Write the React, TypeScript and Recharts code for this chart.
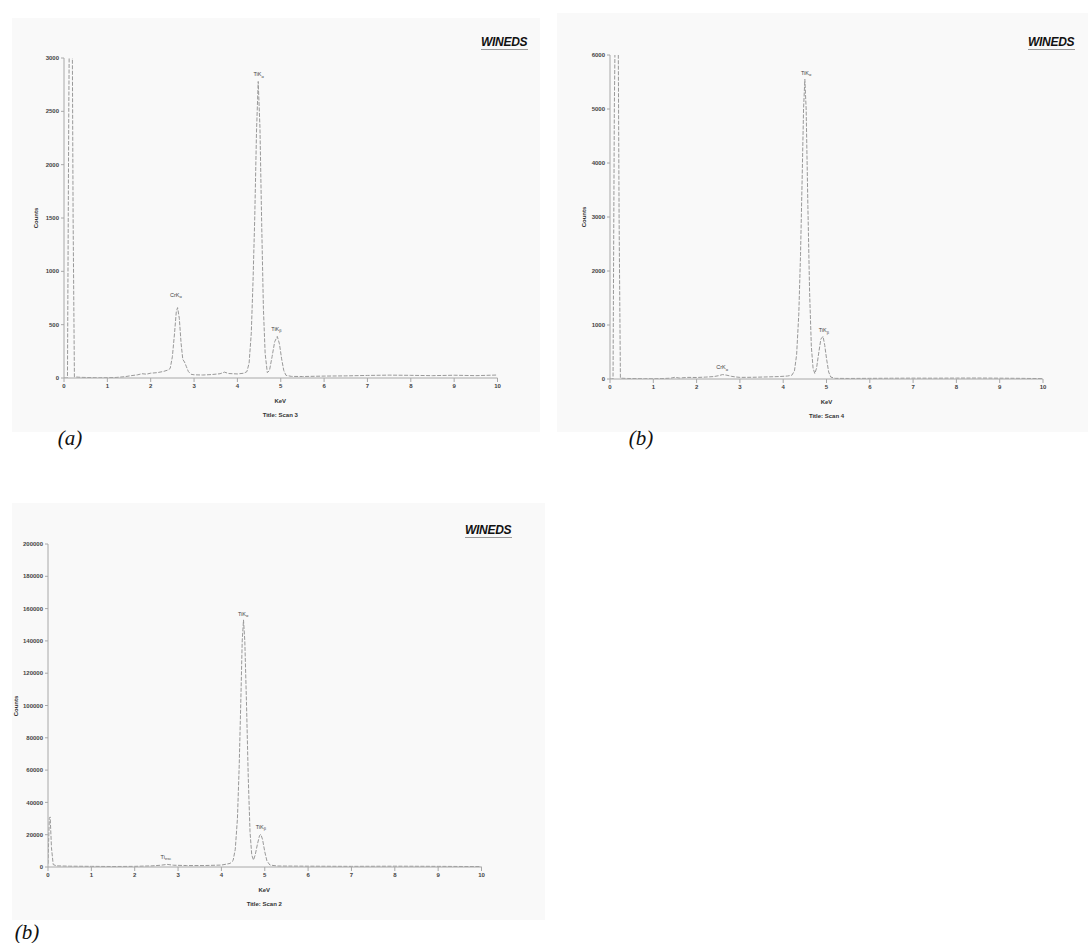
import React from "react";
import { LineChart, Line, XAxis, YAxis, ReferenceDot } from "recharts";

// spectra: [keV, counts]
const scan3: [number, number][] = [
  [0, 0], [0.08, 0], [0.11, 2500], [0.14, 4200], [0.18, 4200], [0.21, 1500], [0.24, 10],
  [0.4, 6], [0.6, 4], [0.8, 2], [1.0, 3], [1.2, 5], [1.4, 12], [1.55, 22], [1.7, 30],
  [1.8, 40], [1.9, 36], [2.0, 45], [2.15, 50], [2.3, 62], [2.4, 75], [2.45, 90],
  [2.5, 200], [2.55, 420], [2.59, 620], [2.62, 660], [2.66, 560], [2.7, 330], [2.74, 175],
  [2.78, 150], [2.82, 110], [2.87, 60], [2.93, 35], [3.0, 30], [3.2, 28], [3.4, 32],
  [3.6, 40], [3.7, 55], [3.8, 42], [4.0, 38], [4.15, 45], [4.22, 60], [4.27, 140],
  [4.32, 420], [4.36, 900], [4.4, 1500], [4.44, 2300], [4.48, 2780], [4.52, 2350],
  [4.56, 1450], [4.6, 650], [4.64, 230], [4.69, 50], [4.74, 70], [4.8, 200], [4.86, 340],
  [4.92, 390], [4.97, 320], [5.02, 180], [5.07, 70], [5.12, 25], [5.25, 15], [5.5, 14],
  [6.0, 18], [6.5, 20], [7.0, 24], [7.5, 27], [8.0, 25], [8.5, 22], [9.0, 26], [9.5, 22],
  [10, 28],
];

const scan4: [number, number][] = [
  [0, 0], [0.07, 0], [0.1, 5000], [0.14, 8000], [0.18, 8000], [0.21, 3000], [0.24, 15],
  [0.4, 10], [0.6, 8], [0.8, 6], [1.0, 5], [1.2, 8], [1.4, 15], [1.5, 32], [1.6, 18],
  [1.8, 30], [2.0, 28], [2.2, 35], [2.4, 45], [2.5, 60], [2.6, 82], [2.7, 70], [2.8, 50],
  [2.9, 38], [3.0, 30], [3.3, 32], [3.6, 38], [3.9, 45], [4.1, 55], [4.2, 70],
  [4.26, 150], [4.31, 450], [4.36, 1200], [4.4, 2300], [4.44, 3800], [4.47, 5000],
  [4.5, 5550], [4.53, 5000], [4.57, 3200], [4.61, 1600], [4.65, 600], [4.69, 200],
  [4.73, 100], [4.77, 200], [4.82, 480], [4.87, 740], [4.92, 790], [4.96, 620],
  [5.0, 380], [5.05, 130], [5.1, 35], [5.2, 12], [5.5, 10], [6, 12], [6.5, 14], [7, 16],
  [7.5, 15], [8, 17], [8.5, 18], [9, 15], [9.5, 12], [9.7, 10], [10, 8],
];

const scan2: [number, number][] = [
  [0, 2000], [0.03, 30000], [0.05, 31000], [0.08, 12000], [0.12, 1500], [0.2, 700],
  [0.5, 500], [1.0, 400], [1.5, 300], [2.0, 400], [2.4, 700], [2.6, 1100], [2.75, 1600],
  [2.9, 1100], [3.2, 900], [3.6, 900], [4.0, 1200], [4.2, 2200], [4.27, 4000],
  [4.32, 11000], [4.37, 30000], [4.41, 62000], [4.45, 105000], [4.48, 140000],
  [4.51, 153000], [4.54, 140000], [4.58, 100000], [4.62, 55000], [4.66, 22000],
  [4.7, 7500], [4.74, 4300], [4.78, 7500], [4.83, 14000], [4.88, 19500], [4.91, 20200],
  [4.95, 17000], [5.0, 9500], [5.05, 3800], [5.12, 1200], [5.3, 600], [6, 500], [7, 400],
  [8, 500], [9, 400], [9.7, 300], [10, 300],
];

const kevTicks = [0, 1, 2, 3, 4, 5, 6, 7, 8, 9, 10];
const ticks3 = [0, 500, 1000, 1500, 2000, 2500, 3000];
const ticks4 = [0, 1000, 2000, 3000, 4000, 5000, 6000];
const ticks2 = [0, 20000, 40000, 60000, 80000, 100000, 120000, 140000, 160000, 180000, 200000];

// peak labels: element, line (subscript), keV, counts
const peaks3: [string, string, number, number][] = [
  ["CrK", "α", 2.58, 780],
  ["TiK", "α", 4.49, 2850],
  ["TiK", "β", 4.9, 460],
];
const peaks4: [string, string, number, number][] = [
  ["CrK", "α", 2.59, 222],
  ["TiK", "α", 4.53, 5670],
  ["TiK", "β", 4.94, 907],
];
const peaks2: [string, string, number, number][] = [
  ["Ti", "esc", 2.72, 6200],
  ["TiK", "α", 4.5, 156700],
  ["TiK", "β", 4.91, 24800],
];

const SANS = "'Liberation Sans', Arial, sans-serif";
const SERIF = "'Liberation Serif', 'Times New Roman', serif";
const YW = 40;
const XH = 24;

type Rect = { left: number; top: number; right: number; bottom: number };

const Logo = ({ x, y }: { x: number; y: number }) => (
  <div style={{ position: "absolute", left: x, top: y, width: 50 }}>
    <div
      style={{
        fontFamily: SANS,
        fontSize: 12,
        fontWeight: 900,
        fontStyle: "italic",
        lineHeight: "11px",
        letterSpacing: -0.3,
        color: "#111",
      }}
    >
      WINEDS
    </div>
    <div style={{ marginTop: 1, width: 47, borderTop: "1px solid #9a9a9a" }} />
  </div>
);

const Spectrum = ({
  series,
  yTicks,
  yMax,
  peaks,
  plot,
  title,
  countsX,
}: {
  series: [number, number][];
  yTicks: number[];
  yMax: number;
  peaks: [string, string, number, number][];
  plot: Rect;
  title: string;
  countsX: number;
}) => {
  const data = series.map(([kev, counts]) => ({ kev, counts }));
  const L = plot.left - YW;
  const T = plot.top - 8;
  const W = plot.right + 12 - L;
  const H = plot.bottom + XH + 4 - T;
  const cx = (plot.left + plot.right) / 2;
  const cy = (plot.top + plot.bottom) / 2;
  const small = {
    position: "absolute" as const,
    fontFamily: SANS,
    fontSize: 6,
    fontWeight: 700,
    color: "#333",
    whiteSpace: "nowrap" as const,
    transform: "translate(-50%, -50%)",
  };
  return (
    <>
      <LineChart
        width={W}
        height={H}
        data={data}
        margin={{ top: 8, right: 12, bottom: 4, left: 0 }}
        style={{ position: "absolute", left: L, top: T }}
      >
        <XAxis
          dataKey="kev"
          type="number"
          domain={[0, 10]}
          ticks={kevTicks}
          interval={0}
          allowDataOverflow
          height={XH}
          tickSize={4}
          tickMargin={2}
          stroke="#a8a8a8"
          tick={{ fontSize: 6, fill: "#444", fontWeight: 700, fontFamily: SANS }}
        />
        <YAxis
          type="number"
          domain={[0, yMax]}
          ticks={yTicks}
          interval={0}
          allowDataOverflow
          width={YW}
          tickSize={3}
          tickMargin={2}
          stroke="#a8a8a8"
          tick={{ fontSize: 6, fill: "#444", fontWeight: 700, fontFamily: SANS }}
        />
        <Line
          dataKey="counts"
          type="linear"
          stroke="#999"
          strokeWidth={1}
          strokeDasharray="4 1.5"
          dot={false}
          isAnimationActive={false}
        />
        {peaks.map(([el, ln, kev, counts]) => (
          <ReferenceDot
            key={el + ln}
            x={kev}
            y={counts}
            r={0}
            shape={(p: any) => (
              <text
                x={p.cx}
                y={p.cy}
                textAnchor="middle"
                dominantBaseline="central"
                fontSize={5.5}
                fontFamily={SANS}
                fill="#444"
              >
                {el}
                <tspan fontSize={4} dy={1.5}>
                  {ln}
                </tspan>
              </text>
            )}
          />
        ))}
      </LineChart>
      <div style={{ ...small, left: cx, top: plot.bottom + 23 }}>KeV</div>
      <div style={{ ...small, left: cx, top: plot.bottom + 37 }}>{title}</div>
      <div style={{ ...small, left: countsX, top: cy, transform: "translate(-50%, -50%) rotate(-90deg)" }}>
        Counts
      </div>
    </>
  );
};

const Tag = ({ x, y, text }: { x: number; y: number; text: string }) => (
  <div
    style={{
      position: "absolute",
      left: x,
      top: y,
      transform: "translate(-50%, -50%)",
      fontFamily: SERIF,
      fontStyle: "italic",
      fontSize: 21,
      color: "#111",
    }}
  >
    {text}
  </div>
);

const Panel = ({ x, y, w, h }: { x: number; y: number; w: number; h: number }) => (
  <div style={{ position: "absolute", left: x, top: y, width: w, height: h, background: "#f9f9f9" }} />
);

export default function App() {
  return (
    <div style={{ position: "relative", width: 1088, height: 943, background: "#fff", overflow: "hidden" }}>
      <style>{`body{margin:0}`}</style>
      <Panel x={12} y={18} w={528} h={414} />
      <Panel x={557} y={13} w={531} h={419} />
      <Panel x={12} y={503} w={533} h={417} />

      <Spectrum
        series={scan3}
        yTicks={ticks3}
        yMax={3000}
        peaks={peaks3}
        plot={{ left: 63.5, top: 58, right: 497, bottom: 378 }}
        title="Title: Scan 3"
        countsX={36}
      />
      <Spectrum
        series={scan4}
        yTicks={ticks4}
        yMax={6000}
        peaks={peaks4}
        plot={{ left: 610, top: 55, right: 1043, bottom: 379 }}
        title="Title: Scan 4"
        countsX={584}
      />
      <Spectrum
        series={scan2}
        yTicks={ticks2}
        yMax={200000}
        peaks={peaks2}
        plot={{ left: 47.5, top: 544, right: 481, bottom: 867 }}
        title="Title: Scan 2"
        countsX={16}
      />

      <Logo x={481} y={37} />
      <Logo x={1028} y={37} />
      <Logo x={465} y={525} />

      <Tag x={70} y={438} text="(a)" />
      <Tag x={641} y={438} text="(b)" />
      <Tag x={27} y={932} text="(b)" />
    </div>
  );
}
